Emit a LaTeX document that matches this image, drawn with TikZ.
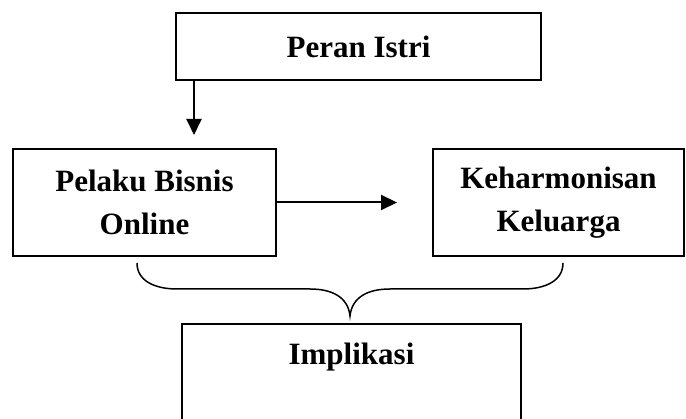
\documentclass[tikz,border=0pt]{standalone}
\usepackage{fontspec}
\setmainfont{Liberation Serif}
\usetikzlibrary{arrows.meta}
\begin{document}
\begin{tikzpicture}[x=1pt,y=-1pt,
  lbl/.style={font=\fontsize{31}{43}\selectfont\bfseries, align=center, inner sep=0pt},
  box/.style={lbl, draw, line width=2pt},
  arr/.style={line width=2pt, -{Triangle[length=16pt,width=15pt]}},
  bracestyle/.style={line width=1.5pt}]
\clip (0,0) rectangle (686,419);
\node[box, minimum width=365pt, minimum height=67pt] (peran) at (358.5,46.5) {Peran Istri};
\node[box, minimum width=263pt, minimum height=107pt] (pelaku) at (144.5,202.5) {Pelaku Bisnis\\Online};
\node[box, minimum width=251pt, minimum height=107pt] (kel) at (558.5,202.5) {Keharmonisan\\Keluarga};
\node[box, minimum width=339pt, minimum height=160pt, anchor=north] (impl) at (351.5,323) {};
\node[lbl, anchor=base] (impltext) at (351.5,365) {Implikasi};
\path (peran.south west) ++(19,0) coordinate (d0);
\draw[arr, shorten >=13pt] (d0) -- (d0 |- pelaku.north);
\draw[arr, shorten >=35pt] (pelaku.east) -- (kel.west);
\draw[bracestyle] (137,263) .. controls (137,281) and (155,289) .. (177,289) -- (310,289)
  .. controls (332,289) and (348,297) .. (350,316)
  .. controls (352,297) and (368,289) .. (390,289) -- (523,289)
  .. controls (545,289) and (563,281) .. (563,263);
\end{tikzpicture}
\end{document}
